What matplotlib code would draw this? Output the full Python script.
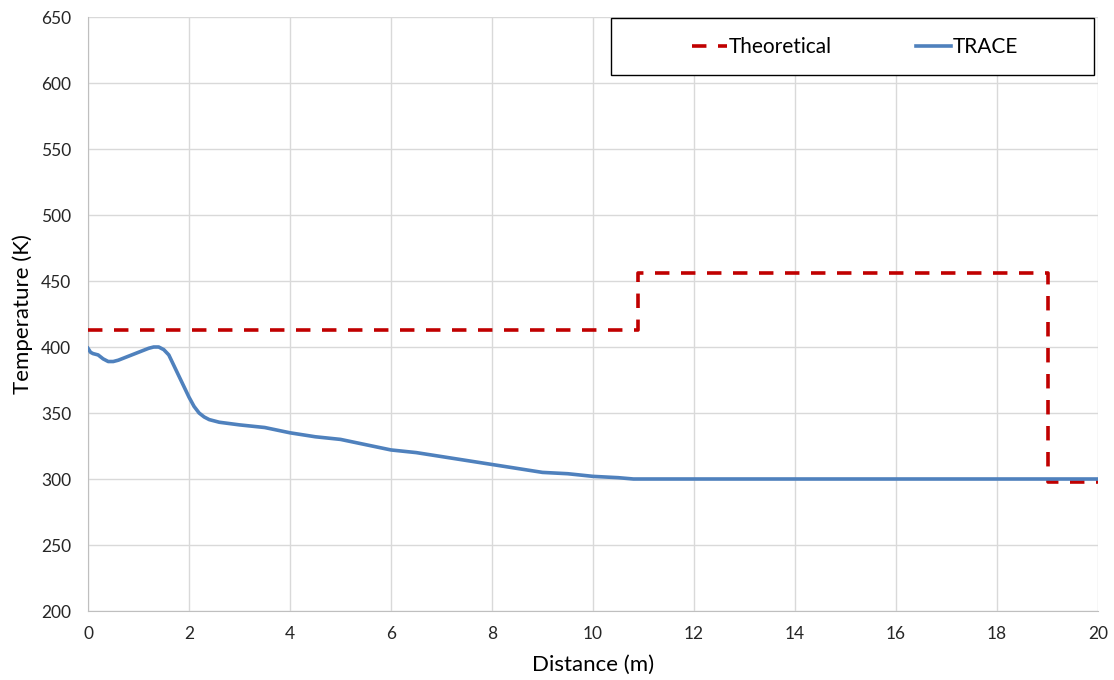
import matplotlib
matplotlib.use("Agg")
import matplotlib.pyplot as plt
from matplotlib.patches import Rectangle

# Data
theory_x = [0, 10.9, 19.0, 20.0]
theory_y = [413, 456, 298, 298]

trace_x = [0, 0.05, 0.1, 0.2, 0.3, 0.4, 0.5, 0.6, 0.8, 1.0, 1.2, 1.3, 1.4, 1.5, 1.6, 1.7, 1.8, 1.9,
           2.0, 2.1, 2.2, 2.3, 2.4, 2.6, 3.0, 3.5, 4.0, 4.5, 5.0, 5.5, 6.0, 6.5, 7.0, 7.5,
           8.0, 8.5, 9.0, 9.5, 10.0, 10.5, 10.8, 12, 14, 16, 18, 20]
trace_y = [399, 396, 395, 394, 391, 389, 389, 390, 393, 396, 399, 400, 400, 398, 394, 386, 378, 370,
           362, 355, 350, 347, 345, 343, 341, 339, 335, 332, 330, 326, 322, 320, 317, 314,
           311, 308, 305, 304, 302, 301, 300, 300, 300, 300, 300, 300]

x_ticks = list(range(0, 21, 2))
y_ticks = list(range(200, 651, 50))

plt.rcParams['font.family'] = ['Lato', 'DejaVu Sans']

fig = plt.figure(figsize=(11.14, 6.8), dpi=100)
ax = fig.add_axes([88/1114, 69/680, 1010/1114, 594/680])

ax.plot(theory_x, theory_y, drawstyle='steps-post', color='#C00000', lw=2.6,
        dashes=(4.0, 3.2), label='Theoretical', zorder=3)
ax.plot(trace_x, trace_y, color='#4F81BD', lw=2.6, label='TRACE', zorder=4)

ax.set_xlim(0, 20)
ax.set_ylim(200, 650)
ax.set_xticks(x_ticks)
ax.set_yticks(y_ticks)
ax.tick_params(length=0, labelsize=12.5, colors='#262626')
ax.tick_params(axis='y', pad=12)
ax.tick_params(axis='x', pad=11)
ax.grid(True, color='#d9d9d9', lw=1)
ax.set_axisbelow(True)
for s in ['top', 'right']:
    ax.spines[s].set_visible(False)
for s in ['left', 'bottom']:
    ax.spines[s].set_color('#bfbfbf')

ax.set_xlabel('Distance (m)', fontsize=16, labelpad=9)
ax.set_ylabel('Temperature (K)', fontsize=16, labelpad=6)

# legend frame
frame = Rectangle((611/1114, (680-75)/680), 483/1114, 57/680,
                  transform=fig.transFigure, facecolor='white',
                  edgecolor='black', lw=1.0, zorder=5, clip_on=False)
ax.add_artist(frame)
leg = ax.legend(ncol=2, loc='center', bbox_to_anchor=(855/1114, (680-47)/680),
                bbox_transform=fig.transFigure, fontsize=15, frameon=False,
                handlelength=1.7, handletextpad=0.1, columnspacing=4.0,
                borderpad=0.0, borderaxespad=0)
leg.set_zorder(6)

fig.savefig('out.png', dpi=100)
